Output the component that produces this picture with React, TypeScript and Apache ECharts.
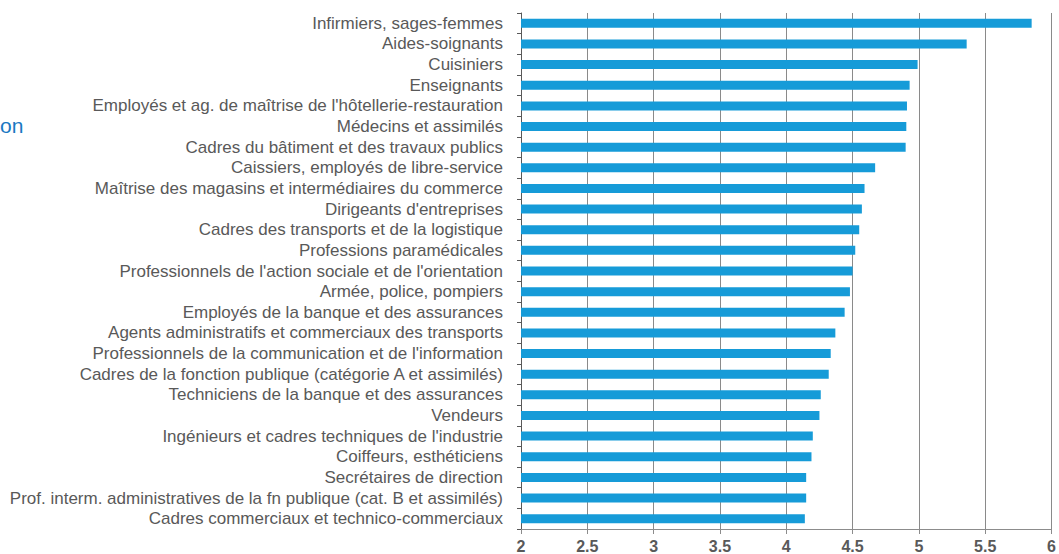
import React, { useEffect, useRef } from "react";
import * as echarts from "echarts";

const categories = [
  "Infirmiers, sages-femmes",
  "Aides-soignants",
  "Cuisiniers",
  "Enseignants",
  "Employés et ag. de maîtrise de l'hôtellerie-restauration",
  "Médecins et assimilés",
  "Cadres du bâtiment et des travaux publics",
  "Caissiers, employés de libre-service",
  "Maîtrise des magasins et intermédiaires du commerce",
  "Dirigeants d'entreprises",
  "Cadres des transports et de la logistique",
  "Professions paramédicales",
  "Professionnels de l'action sociale et de l'orientation",
  "Armée, police, pompiers",
  "Employés de la banque et des assurances",
  "Agents administratifs et commerciaux des transports",
  "Professionnels de la communication et de l'information",
  "Cadres de la fonction publique (catégorie A et assimilés)",
  "Techniciens de la banque et des assurances",
  "Vendeurs",
  "Ingénieurs et cadres techniques de l'industrie",
  "Coiffeurs, esthéticiens",
  "Secrétaires de direction",
  "Prof. interm. administratives de la fn publique (cat. B et assimilés)",
  "Cadres commerciaux et technico-commerciaux",
];

const values = [
  5.85, 5.36, 4.99, 4.93, 4.91, 4.905, 4.9, 4.67, 4.59, 4.57, 4.55, 4.52, 4.5,
  4.48, 4.44, 4.37, 4.335, 4.32, 4.26, 4.25, 4.2, 4.19, 4.15, 4.15, 4.14,
];

const stray = "on";

const FONT = "'Liberation Sans', Arial, sans-serif";

export default function App() {
  const ref = useRef<HTMLDivElement>(null);
  useEffect(() => {
    if (!ref.current) return;
    const chart = echarts.init(ref.current, undefined, { renderer: "svg" });
    chart.setOption({
      animation: false,
      textStyle: { fontFamily: FONT },
      grid: { left: 521, right: 7, top: 13, bottom: 25, containLabel: false },
      graphic: [
        {
          type: "text",
          left: 0,
          top: 115,
          style: {
            text: stray,
            fill: "#1a78c2",
            font: "21px 'Liberation Sans', Arial, sans-serif",
          },
        },
      ],
      xAxis: {
        type: "value",
        min: 2,
        max: 6,
        interval: 0.5,
        axisLine: { show: true, lineStyle: { color: "#8c8c8c", width: 1 } },
        axisTick: { show: true, length: 5, lineStyle: { color: "#8c8c8c" } },
        axisLabel: {
          color: "#595959",
          fontWeight: "bold",
          fontSize: 16,
          margin: 9,
          fontFamily: FONT,
        },
        splitLine: { show: true, lineStyle: { color: "#8a8a8a", width: 1 } },
      },
      yAxis: {
        type: "category",
        data: categories,
        inverse: true,
        axisLine: { show: true, lineStyle: { color: "#595959", width: 1 } },
        axisTick: { show: true, length: 4, lineStyle: { color: "#595959" } },
        axisLabel: {
          color: "#595959",
          fontSize: 17,
          margin: 18,
          interval: 0,
          hideOverlap: false,
          fontFamily: FONT,
        },
      },
      series: [
        {
          type: "bar",
          data: values,
          barWidth: 9,
          itemStyle: { color: "#169bd8" },
        },
      ],
    });
    return () => chart.dispose();
  }, []);
  return (
    <div
      ref={ref}
      style={{ position: "fixed", left: 0, top: 0, width: 1059, height: 554, background: "#fff" }}
    />
  );
}
